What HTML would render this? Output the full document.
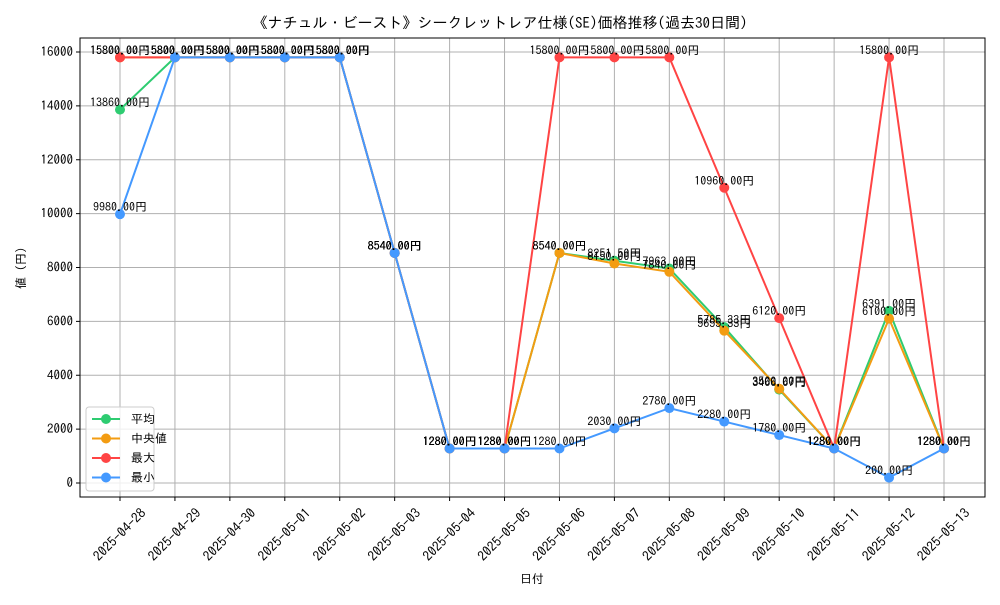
<!DOCTYPE html>
<html><head><meta charset="utf-8"><style>
body{margin:0;background:#fff}
svg{font-family:"IPAGothic","Noto Sans CJK JP",sans-serif}
</style></head><body>
<svg id="c" width="1000" height="600"></svg>
<script>
const dates=["2025-04-28","2025-04-29","2025-04-30","2025-05-01","2025-05-02","2025-05-03","2025-05-04","2025-05-05","2025-05-06","2025-05-07","2025-05-08","2025-05-09","2025-05-10","2025-05-11","2025-05-12","2025-05-13"];
const avgVals=[13860,15800,15800,15800,15800,8540,1280,1280,8540,8251.5,7963,5785.33,3466.67,1280,6391,1280];
const medVals=[15800,15800,15800,15800,15800,8540,1280,1280,8540,8150,7840,5655.33,3500,1280,6100,1280];
const maxVals=[15800,15800,15800,15800,15800,8540,1280,1280,15800,15800,15800,10960,6120,1280,15800,1280];
const minVals=[9980,15800,15800,15800,15800,8540,1280,1280,1280,2030,2780,2280,1780,1280,200,1280];
const yTicks=[0,2000,4000,6000,8000,10000,12000,14000,16000];
const NS="http://www.w3.org/2000/svg";
const svg=document.getElementById('c');
const L=80,R=985,T=38,B=497;
const xs=i=>120+i*(944-120)/15;
const ys=v=>483-v*(483-52)/16000;
function el(t,a,p){const e=document.createElementNS(NS,t);for(const k in a)e.setAttribute(k,a[k]);(p||svg).appendChild(e);return e;}
function tx(x,y,s,a,p){const e=el('text',Object.assign({x:x,y:y,'font-size':12,fill:'#000'},a||{}),p);e.textContent=s;return e;}
const grid=el('g',{});


yTicks.forEach(v=>{el('line',{x1:L,x2:R,y1:ys(v),y2:ys(v),stroke:'#b0b0b0','stroke-width':1},grid);
 el('line',{x1:L-4,x2:L,y1:ys(v),y2:ys(v),stroke:'#000'});
 const t=tx(L-7,ys(v)+4,String(v),{'text-anchor':'end','font-size':13});
 
 });
dates.forEach((d,i)=>{el('line',{x1:xs(i),x2:xs(i),y1:T,y2:B,stroke:'#b0b0b0','stroke-width':1},grid);
 el('line',{x1:xs(i),x2:xs(i),y1:B,y2:B+4,stroke:'#000'});
 const t=tx(0,4,d,{'text-anchor':'middle','font-size':13.5,transform:`translate(${xs(i)},${B+38}) rotate(-45)`});
 
 });
el('rect',{x:L,y:T,width:R-L,height:B-T,fill:'none',stroke:'#000','stroke-width':1});
const series=[["avg",avgVals,"#2ecc71"],["med",medVals,"#f39c12"],["max",maxVals,"#ff4444"],["min",minVals,"#4499ff"]];
series.forEach(([n,vals,c])=>{
 const g=el('g',{});
 
 
 el('polyline',{points:vals.map((v,i)=>xs(i)+','+ys(v)).join(' '),fill:'none',stroke:c,'stroke-width':2},g);
 vals.forEach((v,i)=>{const p=el('circle',{cx:xs(i),cy:ys(v),r:5,fill:c},g);
  
  });
});
series.forEach(([n,vals])=>{vals.forEach((v,i)=>{const t=tx(xs(i),ys(v)-3,v.toFixed(2)+'円',{'text-anchor':'middle'});
 
 });});
const title=tx(500,28,'《ナチュル・ビースト》シークレットレア仕様(SE)価格推移(過去30日間)',{'text-anchor':'middle','font-size':15});


const xl=tx(532,583,'日付',{'text-anchor':'middle'});


const yl=tx(0,0,'値 (円)',{'text-anchor':'middle',transform:'translate(25,268) rotate(-90)'});


const lg=el('g',{});


el('rect',{x:86,y:407,width:68,height:84,rx:3,fill:'#fff','fill-opacity':0.8,stroke:'#ccc'},lg);
["平均","中央値","最大","最小"].forEach((s,i)=>{const y=419+i*19.5,c=series[i][2];
 el('line',{x1:92,x2:120,y1:y,y2:y,stroke:c,'stroke-width':2},lg);
 el('circle',{cx:106,cy:y,r:5,fill:c},lg);
 const t=tx(131,y+4,s,{},lg);
 
 });
</script>
</body></html>
